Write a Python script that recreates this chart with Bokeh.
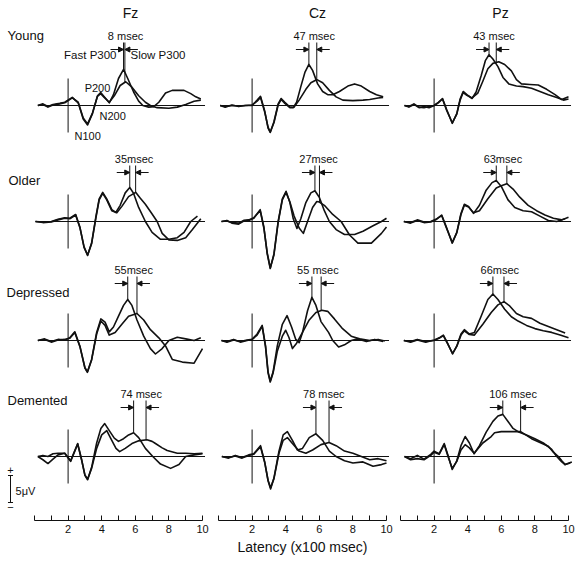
import numpy as np
from bokeh.plotting import figure
from bokeh.layouts import row
from bokeh.models import FixedTicker, Arrow, NormalHead, ColumnDataSource, Range1d
from bokeh.embed import file_html
from bokeh.resources import INLINE
from bokeh.core.properties import value

# ---------------- data ----------------
GROUPS = ["Young", "Older", "Depressed", "Demented"]
SITES = ["Fz", "Cz", "Pz"]
X_MAJOR_TICKS = [2, 4, 6, 8, 10]
X_MINOR_TICKS = [0, 1, 3, 5, 7, 9]
STIM_ONSET = 2.0            # x100 msec
LATENCY_DIFF = [[8, 47, 43], [35, 27, 63], [55, 55, 66], [74, 78, 106]]   # msec
LABEL_SPACE = [[True, True, True], [False, False, False], [False, True, False], [True, True, True]]
FAST_PEAK = [[5.30, 5.38, 5.27], [5.67, 5.74, 5.70], [5.55, 5.56, 5.50], [5.90, 5.80, 6.09]]  # x100 msec

# waveforms: (latency x100 msec, amplitude uV)
young_fz_fast = [(0.2,0),(0.5,0.3),(0.8,-0.2),(1.1,0.2),(1.5,0.4),(1.8,0.6),(2.25,1.5),(2.6,0.5),(2.9,-2.5),(3.16,-3.6),(3.45,-1.5),(3.75,1.8),(3.94,2.4),(4.15,1.6),(4.45,0.5),(4.7,2.0),(5.0,5.0),(5.3,6.7),(5.55,5.0),(5.9,2.5),(6.2,0.8),(6.45,0),(6.8,-0.3),(7.1,-0.2),(7.4,0.6),(7.8,2.3),(8.2,2.8),(8.9,2.8),(9.3,2.2),(9.6,1.6),(9.9,1.2)]
young_fz_slow = [(0.2,0),(0.5,0.2),(0.8,-0.3),(1.1,0.1),(1.5,0.3),(1.8,0.5),(2.25,1.4),(2.6,0.6),(2.9,-2.3),(3.16,-3.4),(3.45,-1.4),(3.75,1.7),(3.94,2.2),(4.15,1.5),(4.45,0.6),(4.75,1.8),(5.1,3.7),(5.43,4.4),(5.8,3.4),(6.2,1.8),(6.6,0.6),(6.9,0),(7.3,-0.4),(8.0,-0.5),(8.5,-0.3),(9.0,0.2),(9.5,0.8),(9.9,1.0)]
young_cz_fast = [(0.1,0),(0.4,-0.3),(0.8,0.1),(1.2,-0.2),(1.6,0),(2.0,0),(2.3,1.0),(2.5,1.7),(2.75,-1.0),(2.95,-4.2),(3.08,-5.0),(3.3,-3.0),(3.55,0.3),(3.73,1.3),(3.95,0.6),(4.25,-0.3),(4.45,-0.4),(4.65,0.6),(4.9,3.5),(5.15,6.2),(5.38,7.6),(5.6,6.5),(5.9,4.0),(6.2,2.6),(6.5,2.0),(6.8,2.0),(7.2,2.6),(7.7,3.6),(8.1,4.0),(8.5,3.6),(9.0,2.6),(9.4,2.0),(9.8,1.6)]
young_cz_slow = [(0.1,0),(0.4,-0.2),(0.8,0),(1.2,-0.1),(1.6,0),(2.0,0.1),(2.3,0.8),(2.5,1.5),(2.75,-1.2),(2.95,-4.0),(3.08,-4.9),(3.3,-3.2),(3.55,0.1),(3.73,1.1),(3.95,0.4),(4.25,-0.4),(4.5,-0.3),(4.8,1.0),(5.2,3.0),(5.5,4.2),(5.86,4.8),(6.2,4.2),(6.6,2.8),(7.0,1.6),(7.4,1.0),(8.0,0.9),(8.6,1.0),(9.0,1.1),(9.5,1.4),(9.8,1.5)]
young_pz_fast = [(0.24,0),(0.5,-0.3),(0.8,0.2),(1.1,-0.4),(1.4,-0.2),(1.7,-0.4),(2.0,0),(2.25,0.6),(2.5,1.3),(2.75,-0.8),(3.08,-3.3),(3.35,-1.5),(3.55,1.2),(3.73,2.6),(3.95,2.0),(4.26,1.3),(4.5,2.5),(4.8,5.5),(5.05,8.3),(5.27,9.4),(5.5,8.6),(5.8,7.2),(6.1,5.2),(6.45,4.0),(6.9,3.6),(7.3,3.5),(7.8,3.2),(8.3,2.6),(8.8,2.0),(9.3,1.5),(9.7,1.0),(10.0,1.2)]
young_pz_slow = [(0.24,0),(0.5,-0.2),(0.8,0.3),(1.1,-0.3),(1.4,-0.4),(1.7,-0.2),(2.0,0),(2.25,0.5),(2.5,1.2),(2.75,-0.9),(3.08,-3.2),(3.35,-1.6),(3.55,1.0),(3.73,2.4),(3.95,1.9),(4.26,1.4),(4.6,2.3),(4.9,4.5),(5.2,6.8),(5.5,7.8),(5.85,8.1),(6.2,7.6),(6.6,6.4),(6.9,4.8),(7.2,4.0),(7.7,3.9),(8.2,3.8),(8.7,3.0),(9.2,2.0),(9.6,1.1),(10.0,1.6)]

older_fz_fast = [(0.06,0),(0.5,-0.1),(1.0,0),(1.4,0.4),(1.8,0.7),(2.1,0.6),(2.45,1.3),(2.7,-1.0),(2.95,-4.8),(3.16,-6.3),(3.4,-4.0),(3.65,0.8),(3.85,4.2),(4.06,5.4),(4.3,4.2),(4.6,2.2),(4.84,1.7),(5.1,3.0),(5.4,5.3),(5.67,6.3),(5.9,5.2),(6.2,2.6),(6.6,0),(7.0,-2.0),(7.5,-3.3),(8.0,-3.3),(8.5,-3.0),(8.9,-2.0),(9.3,0),(9.7,1.0)]
older_fz_slow = [(0.06,0),(0.5,-0.2),(1.0,-0.1),(1.4,0.3),(1.8,0.6),(2.1,0.5),(2.45,1.2),(2.7,-1.1),(2.95,-4.7),(3.16,-6.2),(3.4,-4.1),(3.65,0.6),(3.85,4.0),(4.06,5.2),(4.3,4.0),(4.6,2.0),(4.9,1.6),(5.2,2.8),(5.6,4.6),(6.02,5.4),(6.3,4.3),(6.6,3.2),(7.0,1.4),(7.3,0),(7.6,-2.2),(8.0,-3.4),(8.5,-3.5),(9.0,-3.0),(9.4,-1.5),(9.9,0.5)]
older_cz_fast = [(0.18,0),(0.5,0.2),(0.8,-0.3),(1.2,-0.5),(1.5,0.1),(1.8,0.2),(2.1,0.6),(2.48,2.2),(2.7,-1.0),(2.9,-6.0),(3.08,-8.7),(3.3,-6.0),(3.55,0),(3.8,4.2),(4.02,5.6),(4.25,3.5),(4.45,0.5),(4.67,-1.3),(4.9,0.5),(5.2,3.5),(5.5,5.3),(5.74,5.7),(6.0,4.5),(6.3,2.0),(6.6,0),(7.0,-1.5),(7.5,-2.4),(8.1,-2.4),(8.6,-1.8),(9.2,-0.8),(9.7,0),(10.0,0.6)]
older_cz_slow = [(0.18,0),(0.5,0.1),(0.8,-0.2),(1.2,-0.3),(1.5,0.2),(1.8,0.3),(2.1,0.7),(2.48,2.0),(2.7,-1.2),(2.9,-5.8),(3.08,-8.6),(3.3,-6.2),(3.55,-0.2),(3.8,4.0),(4.02,5.4),(4.25,3.6),(4.5,1.0),(4.8,-1.2),(5.05,-2.2),(5.3,0),(5.6,2.6),(5.85,3.7),(6.0,3.6),(6.3,3.0),(6.8,1.3),(7.3,0),(7.8,-2.5),(8.3,-4.0),(9.1,-4.0),(9.7,-2.2),(10.0,-1.0)]
older_pz_fast = [(0.2,0),(0.6,-0.3),(1.0,0.2),(1.4,-0.2),(1.8,-0.1),(2.1,0.3),(2.45,1.2),(2.7,-0.8),(3.08,-4.0),(3.35,-2.0),(3.6,1.5),(3.8,3.2),(4.05,2.8),(4.35,1.5),(4.7,3.0),(5.1,5.8),(5.45,7.2),(5.7,7.6),(6.0,6.5),(6.4,4.0),(6.8,2.6),(7.3,2.0),(7.8,1.8),(8.3,1.0),(8.8,0.2),(9.3,0),(9.8,0.5)]
older_pz_slow = [(0.2,0),(0.6,-0.2),(1.0,0.3),(1.4,-0.1),(1.8,0),(2.1,0.4),(2.45,1.1),(2.7,-0.9),(3.08,-3.9),(3.35,-2.1),(3.6,1.3),(3.8,3.0),(4.05,2.7),(4.35,1.6),(4.7,2.0),(5.2,4.2),(5.7,6.2),(6.0,6.6),(6.33,7.0),(6.7,6.0),(7.1,4.5),(7.6,3.0),(8.1,2.0),(8.6,1.2),(9.1,0.6),(9.6,0.3),(10.0,0.8)]

depressed_fz_fast = [(0.2,0),(0.6,0.3),(1.0,-0.2),(1.4,0.2),(1.8,0.1),(2.1,0.5),(2.4,1.6),(2.7,-1.0),(3.0,-5.0),(3.15,-5.8),(3.4,-3.5),(3.7,1.5),(3.95,4.0),(4.2,3.4),(4.45,1.6),(4.7,2.5),(5.0,4.5),(5.3,6.5),(5.55,7.6),(5.8,6.5),(6.1,3.8),(6.5,0.8),(6.9,-1.5),(7.2,-2.5),(7.6,-1.5),(8.0,0),(8.5,0.6),(9.0,0.3),(9.5,0),(9.9,0.5)]
depressed_fz_slow = [(0.2,0),(0.6,0.2),(1.0,-0.3),(1.4,0.1),(1.8,0.2),(2.1,0.4),(2.4,1.5),(2.7,-1.1),(3.0,-5.1),(3.15,-5.9),(3.4,-3.6),(3.7,1.2),(3.95,3.6),(4.2,2.8),(4.45,1.0),(4.8,1.5),(5.2,3.0),(5.6,4.5),(6.1,5.0),(6.5,3.8),(6.9,2.0),(7.4,0.5),(7.8,-1.0),(8.2,-3.5),(8.8,-4.0),(9.5,-4.2),(10.0,-1.5)]
depressed_cz_fast = [(0.18,0),(0.5,-0.2),(0.9,0.2),(1.3,-0.3),(1.7,0),(2.0,0.2),(2.3,1.2),(2.6,2.8),(2.8,-1.0),(2.95,-5.8),(3.08,-7.5),(3.25,-5.8),(3.5,-1.0),(3.8,3.0),(4.08,4.6),(4.35,2.5),(4.6,0.2),(4.8,-0.4),(5.0,1.5),(5.3,5.5),(5.56,8.0),(5.8,6.5),(6.1,3.5),(6.55,1.5),(6.8,0),(7.15,-1.2),(7.5,-0.8),(7.9,0),(8.3,0.3),(8.8,-0.2),(9.3,0.2),(9.8,-0.2)]
depressed_cz_slow = [(0.18,0),(0.5,-0.3),(0.9,0.1),(1.3,-0.2),(1.7,0.1),(2.0,0.2),(2.3,1.0),(2.6,2.6),(2.8,-1.2),(2.95,-6.0),(3.08,-7.7),(3.25,-6.0),(3.5,-2.0),(3.8,0.8),(4.0,1.9),(4.2,0.5),(4.4,-1.5),(4.65,-0.5),(5.0,1.5),(5.4,3.8),(5.8,5.2),(6.15,5.6),(6.5,5.4),(6.9,4.0),(7.35,2.3),(7.9,0.8),(8.4,0.3),(9.0,0),(9.5,0.2),(9.9,-0.1)]
depressed_pz_fast = [(0.2,0),(0.6,-0.2),(1.0,0.2),(1.5,-0.2),(2.0,0),(2.3,0.5),(2.55,1.0),(2.8,-0.5),(3.1,-2.5),(3.35,-1.0),(3.6,1.2),(3.8,2.0),(4.1,1.2),(4.4,1.5),(4.8,4.5),(5.2,7.6),(5.5,8.6),(5.8,7.6),(6.2,5.8),(6.6,4.4),(7.0,3.6),(7.5,2.8),(8.0,2.2),(8.5,1.8),(9.0,1.5),(9.5,1.0),(10.0,0.5)]
depressed_pz_slow = [(0.2,0),(0.6,-0.3),(1.0,0.1),(1.5,-0.3),(2.0,0.1),(2.3,0.4),(2.55,0.9),(2.8,-0.6),(3.1,-2.4),(3.35,-1.1),(3.6,1.0),(3.8,1.8),(4.1,1.1),(4.4,1.0),(4.9,3.0),(5.4,5.2),(5.8,6.6),(6.16,7.2),(6.5,6.4),(6.9,5.0),(7.3,4.4),(7.8,4.1),(8.3,3.2),(8.8,2.6),(9.3,2.0),(9.8,1.4)]

demented_fz_fast = [(0.2,0),(0.5,-0.6),(0.8,-1.3),(1.1,-0.5),(1.4,0.3),(1.8,0.6),(2.15,-0.9),(2.4,1.0),(2.57,2.4),(2.8,-0.5),(3.0,-3.5),(3.16,-4.3),(3.4,-2.0),(3.7,2.5),(3.95,5.2),(4.18,6.1),(4.45,4.8),(4.75,3.4),(5.0,2.8),(5.3,3.3),(5.6,4.0),(5.9,4.4),(6.2,3.5),(6.6,1.5),(7.04,0),(7.5,-1.4),(8.1,-2.2),(8.6,-1.5),(9.0,0),(9.5,0.3),(10.0,0.5)]
demented_fz_slow = [(0.2,0),(0.5,0.2),(0.8,0),(1.1,0.5),(1.4,0.6),(1.8,0.6),(2.15,-0.8),(2.4,1.1),(2.57,2.3),(2.8,-0.6),(3.0,-3.4),(3.16,-4.2),(3.4,-2.2),(3.7,1.5),(4.0,4.0),(4.3,4.8),(4.6,3.0),(4.85,1.5),(5.07,0.9),(5.4,1.5),(5.8,2.4),(6.2,2.9),(6.69,3.1),(7.0,2.8),(7.2,2.4),(7.6,1.6),(7.9,1.1),(8.5,0.6),(9.0,0.6),(9.5,0.5),(10.0,0.6)]
demented_cz_fast = [(0.2,0),(0.6,-0.3),(1.0,0.2),(1.4,-0.2),(1.8,0.3),(2.1,0.5),(2.5,2.0),(2.75,-1.0),(2.95,-4.5),(3.1,-6.0),(3.3,-4.0),(3.6,1.0),(3.85,4.0),(4.1,4.6),(4.4,3.0),(4.7,1.2),(5.0,1.5),(5.4,3.5),(5.8,4.2),(6.2,3.0),(6.6,1.0),(7.0,0),(7.5,-0.8),(8.0,-1.2),(8.6,-1.0),(9.2,-1.8),(9.7,-1.5),(10.0,-1.2)]
demented_cz_slow = [(0.2,0),(0.6,-0.2),(1.0,0.1),(1.4,-0.3),(1.8,0.2),(2.1,0.4),(2.5,1.8),(2.75,-1.1),(2.95,-4.4),(3.1,-5.8),(3.3,-4.1),(3.6,0.6),(3.85,3.0),(4.1,3.5),(4.4,2.4),(4.8,1.0),(5.2,0.6),(5.6,1.2),(6.1,2.2),(6.58,2.6),(7.0,2.0),(7.5,1.0),(8.0,0.6),(8.5,0),(9.0,-0.6),(9.5,-0.4),(10.0,-0.8)]
demented_pz_fast = [(0.24,0),(0.6,-0.4),(1.0,0.2),(1.4,-0.5),(1.8,0.4),(2.0,1.0),(2.3,0.5),(2.6,2.4),(2.85,0),(3.08,-2.4),(3.35,-0.8),(3.6,2.0),(3.85,3.7),(4.1,2.5),(4.38,0.5),(4.7,2.0),(5.1,4.5),(5.5,6.5),(5.8,7.5),(6.09,7.8),(6.4,6.5),(6.7,5.2),(7.0,4.6),(7.5,4.0),(8.0,3.3),(8.5,2.5),(9.0,1.3),(9.3,0),(9.6,-1.0),(9.8,-1.5),(10.2,-1.0)]
demented_pz_slow = [(0.24,0),(0.6,-0.6),(1.0,-0.4),(1.4,-0.6),(1.8,0.2),(2.0,0.8),(2.3,0.4),(2.6,2.2),(2.85,-0.2),(3.08,-2.2),(3.35,-0.9),(3.6,1.2),(3.85,2.2),(4.1,1.6),(4.38,0.6),(4.9,2.5),(5.4,3.7),(5.6,4.4),(6.0,4.6),(6.5,4.6),(7.15,4.6),(7.5,3.9),(7.8,3.3),(8.3,2.6),(8.8,1.9),(9.1,0.8),(9.4,0),(9.6,-0.8),(9.8,-1.5),(10.1,-1.2)]

CURVES = [
    [(young_fz_fast, young_fz_slow), (young_cz_fast, young_cz_slow), (young_pz_fast, young_pz_slow)],
    [(older_fz_fast, older_fz_slow), (older_cz_fast, older_cz_slow), (older_pz_fast, older_pz_slow)],
    [(depressed_fz_fast, depressed_fz_slow), (depressed_cz_fast, depressed_cz_slow), (depressed_pz_fast, depressed_pz_slow)],
    [(demented_fz_fast, demented_fz_slow), (demented_cz_fast, demented_cz_slow), (demented_pz_fast, demented_pz_slow)],
]
SCALE_UV = 5

# ---------------- layout (page pixels) ----------------
FONT = "Liberation Sans"
PX_PER_UNIT = 16.8
PX_PER_UV = 5.4
COL_EDGES = [(8, 218), (218, 402), (402, 585)]
COL_ZERO = [42, 226, 408]
FRAME_TOP, FRAME_BOTTOM = 8, 528
ROW_BASE = [113, 229, 348, 464]
ROW_LABEL_POS = [(15, 43), (16, 188), (14, 300), (15, 408)]
TITLE_Y = 20
TITLE_X = [138, 325, 508]
MSEC_LABEL_UP = [70, 63, 71, 63]      # px above baseline
ONSET_HALF = 27                       # px
ARROW_LEN = 13                        # px
INK = "#111111"


def X(c, px):
    return (px - COL_ZERO[c]) / PX_PER_UNIT


def Y(r, py):
    return (ROW_BASE[r] - py) / PX_PER_UV


figs = []
for c in range(3):
    l, rr = COL_EDGES[c]
    p = figure(frame_width=rr - l, frame_height=FRAME_BOTTOM - FRAME_TOP,
               x_range=Range1d(X(c, l), X(c, rr)), y_range=Range1d(0, 1),
               output_backend="svg", toolbar_location=None, min_border=0,
               x_axis_location="below", y_axis_location=None,
               outline_line_color=None, background_fill_color="white",
               border_fill_color="white")
    p.grid.visible = False
    p.extra_y_ranges = {g: Range1d(Y(r, FRAME_BOTTOM), Y(r, FRAME_TOP)) for r, g in enumerate(GROUPS)}

    for r, g in enumerate(GROUPS):
        def txt(x, y, s, size, align="center"):
            p.text(x=[x], y=[y], text=[s], text_font=value(FONT), text_font_size=size,
                   text_align=align, text_baseline="middle", text_color=INK, y_range_name=g)

        fast, slow = CURVES[r][c]
        fx = [q[0] for q in fast]; fy = [q[1] for q in fast]
        sx = [q[0] for q in slow]; sy = [q[1] for q in slow]
        # baseline and stimulus onset
        x0 = min(fx[0], sx[0]); x1 = max(fx[-1], sx[-1], 10.15)
        p.line(x=[x0, x1], y=[0, 0], line_color=INK, line_width=1, y_range_name=g)
        p.segment(x0=[STIM_ONSET], y0=[ONSET_HALF / PX_PER_UV], x1=[STIM_ONSET],
                  y1=[-ONSET_HALF / PX_PER_UV], line_color=INK, line_width=1, y_range_name=g)
        p.line(x=fx, y=fy, line_color=INK, line_width=1.6, line_join="round", y_range_name=g)
        p.line(x=sx, y=sy, line_color=INK, line_width=1.6, line_join="round", y_range_name=g)

        # latency difference markers
        xf = FAST_PEAK[r][c]
        xs = xf + LATENCY_DIFF[r][c] / 100.0
        lab_y = MSEC_LABEL_UP[r] / PX_PER_UV
        top = lab_y - 7 / PX_PER_UV
        arr_y = lab_y - 14 / PX_PER_UV
        yf = float(np.interp(xf, fx, fy)); ys = float(np.interp(xs, sx, sy))
        p.segment(x0=[xf, xs], y0=[yf, ys], x1=[xf, xs], y1=[top, top],
                  line_color=INK, line_width=1, y_range_name=g)
        al = ARROW_LEN / PX_PER_UNIT
        src = ColumnDataSource(dict(xs=[xf - al, xs + al], xe=[xf, xs], y=[arr_y, arr_y]))
        p.add_layout(Arrow(end=NormalHead(size=5, line_color=INK, fill_color=INK, line_width=1),
                           x_start="xs", y_start="y", x_end="xe", y_end="y", source=src,
                           line_color=INK, line_width=1, y_range_name=g))
        sep = " " if LABEL_SPACE[r][c] else ""
        txt((xf + xs) / 2 + 0.08, lab_y, f"{LATENCY_DIFF[r][c]}{sep}msec", "11px")

        if r == 0:
            txt(X(c, TITLE_X[c]), Y(r, TITLE_Y), SITES[c], "14px")
        if c == 0:
            lx, ly = ROW_LABEL_POS[r]
            txt(X(c, lx), Y(r, ly), g, "13px", "left")
        if r == 0 and c == 0:
            txt(X(c, 124), Y(r, 62), "Fast P300", "11.5px", "right")
            txt(X(c, 138), Y(r, 62), "Slow P300", "11.5px", "left")
            txt(X(c, 105), Y(r, 95), "P200", "11px")
            txt(X(c, 107), Y(r, 123), "N200", "11px", "left")
            txt(X(c, 82), Y(r, 143), "N100", "11px", "left")
        if r == 3 and c == 0:
            bx = X(c, 18)
            ytop = Y(r, 483)
            p.segment(x0=[bx], y0=[ytop], x1=[bx], y1=[ytop - SCALE_UV],
                      line_color=INK, line_width=1, y_range_name=g)
            p.segment(x0=[bx - 0.15, bx - 0.15], y0=[ytop, ytop - SCALE_UV],
                      x1=[bx + 0.15, bx + 0.15], y1=[ytop, ytop - SCALE_UV],
                      line_color=INK, line_width=1, y_range_name=g)
            txt(bx, ytop + 1.0, "+", "11px")
            txt(bx, ytop - SCALE_UV - 0.9, "\u2212", "11px")
            txt(bx + 0.3, ytop - SCALE_UV / 2 - 0.4, f"{SCALE_UV}\u03bcV", "11px", "left")

    ax = p.xaxis[0]
    ax.ticker = FixedTicker(ticks=X_MAJOR_TICKS, minor_ticks=X_MINOR_TICKS)
    ax.bounds = (0, 10)
    ax.major_tick_in = 5; ax.major_tick_out = 0
    ax.minor_tick_in = 5; ax.minor_tick_out = 0
    ax.axis_line_color = INK; ax.major_tick_line_color = INK; ax.minor_tick_line_color = INK
    ax.major_label_standoff = 4
    ax.major_label_text_font = FONT
    ax.major_label_text_font_size = "11px"
    ax.major_label_text_color = INK
    if c == 1:
        ax.axis_label = "Latency (x100 msec)"
        ax.axis_label_text_font = FONT
        ax.axis_label_text_font_size = "14px"
        ax.axis_label_text_font_style = "normal"
        ax.axis_label_text_color = INK
        ax.axis_label_standoff = 3
    figs.append(p)

layout = row(figs, spacing=0)
open("out.html", "w").write(file_html(layout, INLINE))
